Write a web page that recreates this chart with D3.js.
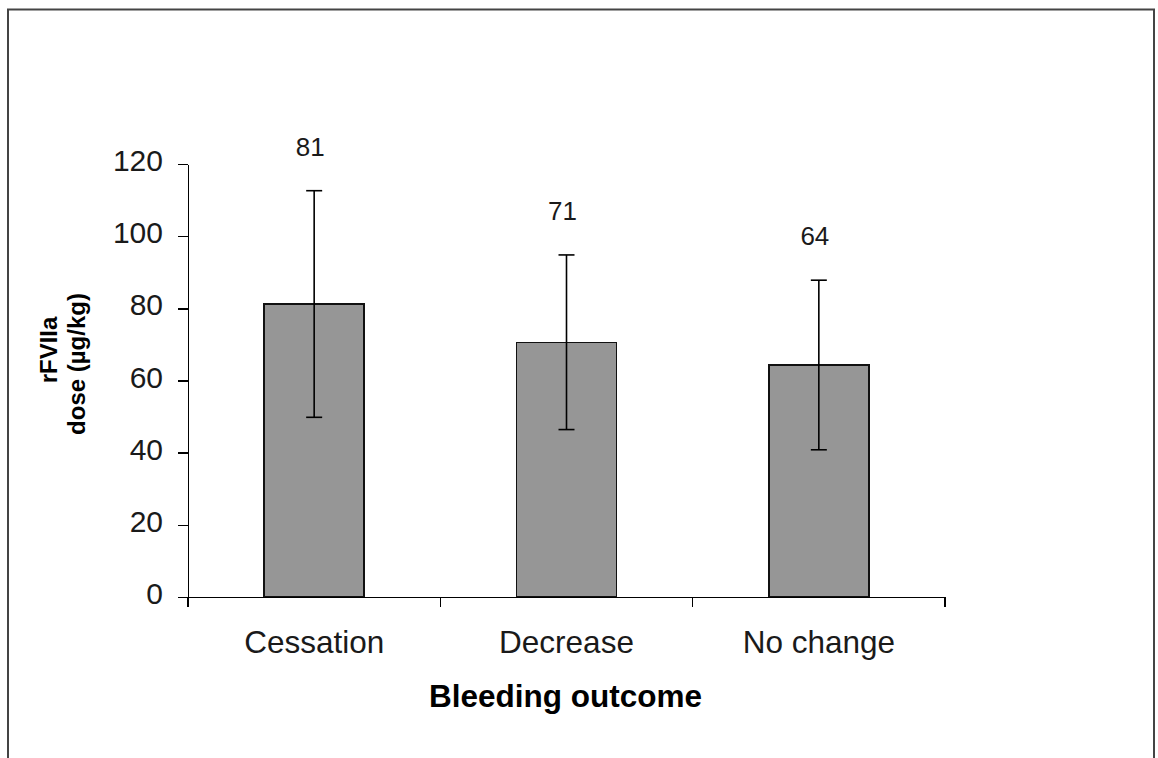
<!DOCTYPE html>
<meta charset="utf-8">
<style>
  body { margin: 0; background: #fff; font-family: "Liberation Sans", Arial, sans-serif; }
  .axis path, .axis line { fill: none; stroke: #000; stroke-width: 1.5; shape-rendering: crispEdges; }
  .axis text { fill: #1a1a1a; font-size: 30px; font-family: "Liberation Sans", Arial, sans-serif; }
  .x.axis text { font-size: 31.5px; }
  .bar { fill: #969696; stroke: #111; stroke-width: 1.5; shape-rendering: crispEdges; }
  .err line { stroke: #000; stroke-width: 1.6; }
  .val { fill: #1a1a1a; font-size: 26px; text-anchor: middle; }
  .title { fill: #000; font-weight: bold; text-anchor: middle; }
</style>
<body>
<script src="https://d3js.org/d3.v7.min.js"></script>
<script>
var categories = ["Cessation", "Decrease", "No change"];
var doses = [81.2, 70.6, 64.3];
var errors = [31.4, 24.2, 23.5];
var labels = ["81", "71", "64"];
var yTicks = [0, 20, 40, 60, 80, 100, 120];

var W = 1158, H = 758;
var plotLeft = 188, plotRight = 945, plotTop = 164, plotBottom = 597;

var svg = d3.select("body").append("svg")
    .attr("width", W)
    .attr("height", H);

// outer frame
svg.append("rect")
    .attr("x", 8).attr("y", 9.5)
    .attr("width", 1146).attr("height", 800)
    .attr("fill", "none")
    .attr("stroke", "#444")
    .attr("stroke-width", 2);

var x = d3.scaleBand()
    .domain(categories)
    .range([plotLeft, plotRight])
    .paddingInner(0.604)
    .paddingOuter(0.302);

var y = d3.scaleLinear()
    .domain([0, 120])
    .range([plotBottom, plotTop]);

// bars
svg.selectAll(".bar")
    .data(categories)
    .enter().append("rect")
    .attr("class", "bar")
    .attr("x", function(d) { return x(d); })
    .attr("y", function(d, i) { return y(doses[i]); })
    .attr("width", x.bandwidth())
    .attr("height", function(d, i) { return y(0) - y(doses[i]); });

// error bars
var err = svg.selectAll(".err")
    .data(categories)
    .enter().append("g")
    .attr("class", "err")
    .attr("transform", function(d) { return "translate(" + (x(d) + x.bandwidth() / 2) + ",0)"; });

err.append("line")
    .attr("x1", 0).attr("x2", 0)
    .attr("y1", function(d, i) { return y(doses[i] - errors[i]); })
    .attr("y2", function(d, i) { return y(doses[i] + errors[i]); });
err.append("line")
    .attr("x1", -8).attr("x2", 8)
    .attr("y1", function(d, i) { return y(doses[i] + errors[i]); })
    .attr("y2", function(d, i) { return y(doses[i] + errors[i]); });
err.append("line")
    .attr("x1", -8).attr("x2", 8)
    .attr("y1", function(d, i) { return y(doses[i] - errors[i]); })
    .attr("y2", function(d, i) { return y(doses[i] - errors[i]); });

// value labels
err.append("text")
    .attr("class", "val")
    .attr("x", -4)
    .attr("y", function(d, i) { return y(doses[i] + errors[i]) - 35; })
    .text(function(d, i) { return labels[i]; });

// y axis
svg.append("g")
    .attr("class", "y axis")
    .attr("transform", "translate(" + plotLeft + ",0)")
    .call(d3.axisLeft(y).tickValues(yTicks).tickSize(10).tickSizeOuter(0).tickPadding(15))
    .selectAll("text").attr("dy", "0.22em");

// x axis: labels at band centres, ticks at band edges
var xAxis = svg.append("g")
    .attr("class", "x axis")
    .attr("transform", "translate(0," + plotBottom + ")")
    .call(d3.axisBottom(x).tickSize(0).tickSizeOuter(0).tickPadding(34));

var edges = d3.range(categories.length + 1).map(function(i) { return plotLeft + i * x.step(); });
xAxis.selectAll(".edge")
    .data(edges)
    .enter().append("line")
    .attr("class", "edge")
    .attr("x1", function(d) { return d; })
    .attr("x2", function(d) { return d; })
    .attr("y1", 0).attr("y2", 10);

// axis titles
svg.append("text")
    .attr("class", "title")
    .attr("x", (plotLeft + plotRight) / 2 - 1)
    .attr("y", 707)
    .style("font-size", "31.5px")
    .text("Bleeding outcome");

svg.append("text")
    .attr("class", "title")
    .attr("transform", "translate(57,350) rotate(-90)")
    .style("font-size", "24px")
    .text("rFVIIa");

svg.append("text")
    .attr("class", "title")
    .attr("transform", "translate(85,364) rotate(-90)")
    .style("font-size", "24px")
    .text("dose (µg/kg)");
</script>
